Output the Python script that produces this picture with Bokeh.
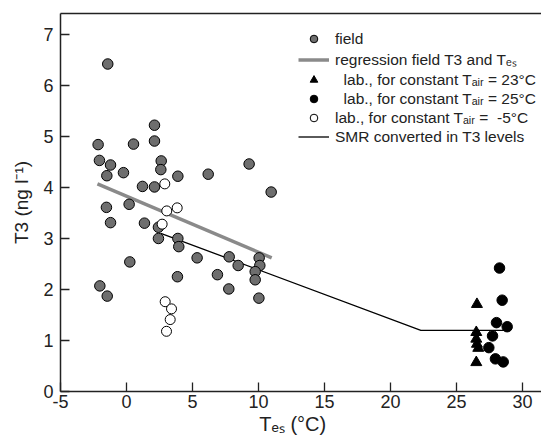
from bokeh.plotting import figure
from bokeh.models import Range1d, LinearAxis, FixedTicker, Legend, LegendItem
from bokeh.embed import file_html
from bokeh.resources import INLINE

# ---- data ----
field_x = [-1.42, 2.12, -2.15, 0.53, 2.12, -2.05, -1.21, 2.63, -0.23, -1.49, 2.60, 3.89, 6.19,
           9.29, 10.96, 1.21, 2.12, -1.52, 0.20, -1.21, 1.36, 2.42, 2.42, 3.89, 3.96, 0.25,
           5.35, 7.78, 8.46, 6.89, 3.86, 7.75, 10.05, 10.10, 9.75, 9.75, 10.03, -2.02, -1.46]
field_y = [6.42, 5.22, 4.84, 4.85, 4.91, 4.53, 4.44, 4.52, 4.29, 4.23, 4.35, 4.22, 4.26,
           4.46, 3.91, 4.02, 4.01, 3.61, 3.67, 3.31, 3.30, 3.22, 3.00, 3.00, 2.84, 2.54,
           2.62, 2.64, 2.47, 2.29, 2.25, 2.01, 2.62, 2.47, 2.35, 2.19, 1.83, 2.07, 1.87]

reg_x = [-2.2, 11.0]
reg_y = [4.07, 2.62]

smr_x = [2.6, 22.3, 28.8]
smr_y = [3.1, 1.2, 1.2]

lab23_x = [26.55, 26.5, 26.5, 26.55, 26.65, 26.5]
lab23_y = [1.71, 1.16, 1.03, 0.93, 0.85, 0.57]

lab25_x = [28.26, 28.46, 28.03, 28.84, 27.73, 27.45, 27.95, 28.54]
lab25_y = [2.42, 1.79, 1.35, 1.27, 1.09, 0.86, 0.64, 0.58]

labm5_x = [2.90, 3.05, 3.84, 2.70, 2.93, 3.41, 3.31, 3.03]
labm5_y = [4.07, 3.54, 3.60, 3.28, 1.76, 1.62, 1.41, 1.18]

x_ticks = [-5, 0, 5, 10, 15, 20, 25, 30]
y_ticks = [0, 1, 2, 3, 4, 5, 6, 7]
x_tick_labels = {-5: "-5", 0: "0", 5: "5", 10: "10", 15: "15", 20: "20", 25: "25", 30: "30"}

FONT = "Liberation Sans"
INK = "#222222"
nb = "\u00a0"

p = figure(width=541, height=437, output_backend="svg", toolbar_location=None,
           x_range=Range1d(-5, 31.44), y_range=Range1d(0, 7.41),
           min_border_left=60, min_border_right=0, min_border_top=13, min_border_bottom=46,
           background_fill_color="white", border_fill_color="white")
p.outline_line_color = None
p.grid.visible = False

xa = p.below[0]
xa.ticker = FixedTicker(ticks=x_ticks)
xa.major_label_overrides = x_tick_labels
xa.axis_label = "T\u2091\u209b (\u00b0C)" + nb * 3
ya = p.left[0]
ya.ticker = FixedTicker(ticks=y_ticks)
ya.axis_label = "T3 (ng l\u207b\u00b9)"
for ax in (xa, ya):
    ax.minor_tick_line_color = None
    ax.major_tick_in = 9
    ax.major_tick_out = 0
    ax.axis_line_width = 1.5
    ax.axis_line_color = INK
    ax.major_tick_line_width = 1.3
    ax.major_tick_line_color = INK
    ax.major_label_text_font = FONT
    ax.major_label_text_font_size = "18px"
    ax.major_label_text_color = INK
    ax.axis_label_text_font = FONT
    ax.axis_label_text_font_style = "normal"
    ax.axis_label_text_color = INK
xa.axis_label_text_font_size = "20px"
ya.axis_label_text_font_size = "19px"
xa.major_label_standoff = 3
xa.axis_label_standoff = 2
ya.major_label_standoff = 7
ya.axis_label_standoff = 8

top_axis = LinearAxis(ticker=FixedTicker(ticks=[]), axis_line_width=1.5, axis_line_color=INK,
                      major_label_text_font_size="0px", minor_tick_line_color=None)
p.add_layout(top_axis, "above")

# lines
r_reg = p.line(reg_x, reg_y, line_color="#8a8a8a", line_width=3.5)
r_smr = p.line(smr_x, smr_y, line_color="black", line_width=1.3)

# points
r_field = p.scatter(field_x, field_y, marker="circle", size=10.5, fill_color="#6e6e6e",
                    line_color="black", line_width=1)
r_m5 = p.scatter(labm5_x, labm5_y, marker="circle", size=10, fill_color="white",
                 line_color="black", line_width=1)
r_23 = p.scatter(lab23_x, lab23_y, marker="triangle", size=11, fill_color="black",
                 line_color="black", line_width=1)
r_25 = p.scatter(lab25_x, lab25_y, marker="circle", size=10.5, fill_color="black",
                 line_color="black", line_width=1)

legend = Legend(items=[
    LegendItem(label="field", renderers=[r_field]),
    LegendItem(label="regression field T3 and T\u2091\u209b", renderers=[r_reg]),
    LegendItem(label=nb + nb + "lab., for constant T\u2090\u1d62\u1d63 = 23\u00b0C", renderers=[r_23]),
    LegendItem(label=nb + nb + "lab., for constant T\u2090\u1d62\u1d63 = 25\u00b0C", renderers=[r_25]),
    LegendItem(label="lab., for constant T\u2090\u1d62\u1d63 =" + nb + nb + "-5\u00b0C", renderers=[r_m5]),
    LegendItem(label="SMR converted in T3 levels", renderers=[r_smr]),
], location=(238, 245), border_line_color=None, background_fill_alpha=0, padding=0,
   spacing=0, glyph_width=31, glyph_height=19, label_height=19, label_standoff=6,
   label_text_font=FONT, label_text_font_size="15.5px", label_text_color=INK, margin=0)
p.add_layout(legend)

open("out.html", "w").write(file_html(p, INLINE))
